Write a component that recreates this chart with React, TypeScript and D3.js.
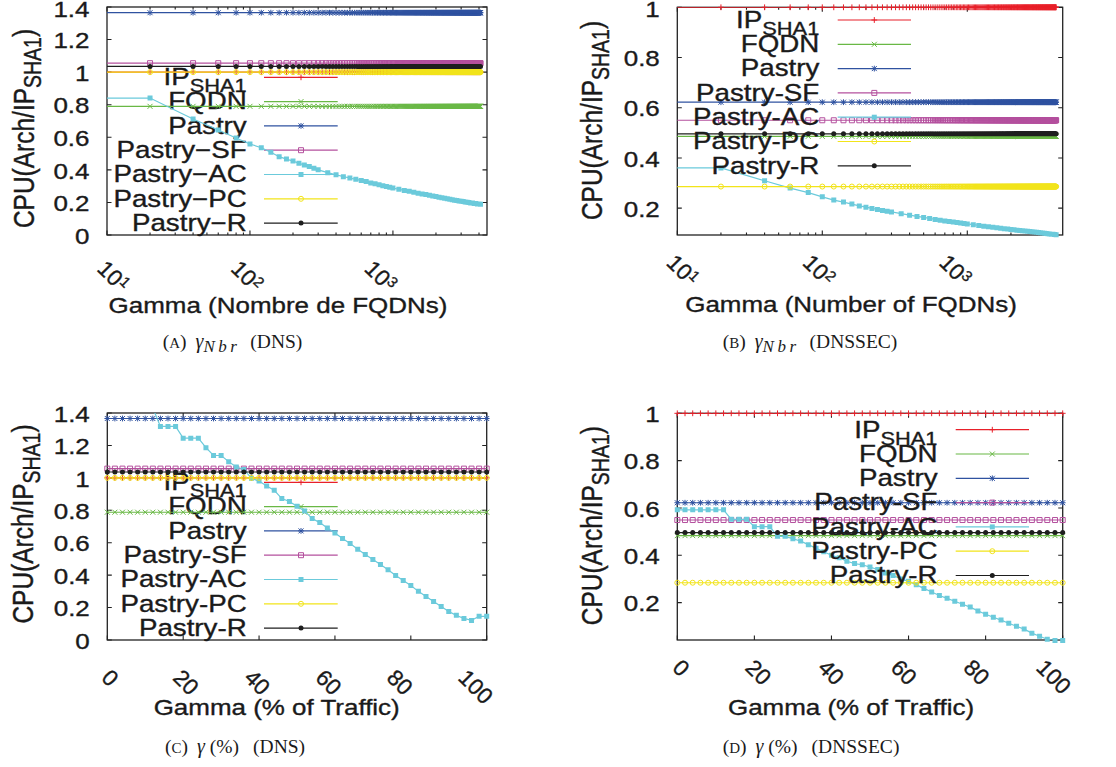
import React from 'react';
import * as d3 from 'd3';

// ---------------- DATA ----------------
const SERIES_NAMES = ['IP_SHA1', 'FQDN', 'Pastry', 'Pastry-SF', 'Pastry-AC', 'Pastry-PC', 'Pastry-R'];
const SERIES_COLORS = ['#e8202a', '#69b845', '#2f52a0', '#b4509e', '#6bcadb', '#f2e41a', '#1e1e1e'];
const SERIES_MARKERS = ['plus', 'cross', 'star', 'openSquare', 'filledSquare', 'openCircle', 'filledCircle'];

// x grids (number of FQDNs, % of traffic)
const nbrGrid = [5, ...d3.range(20, 4101, 20)];
const pctGrid = d3.range(0, 101, 2);

// constant series levels (index 4 = Pastry-AC, given separately)
const dnsNbrLevels = [1.0, 0.79, 1.365, 1.055, NaN, 1.0, 1.035];
const dnssecNbrLevels = [1.0, 0.486, 0.622, 0.55, NaN, 0.286, 0.496];
const dnsPctLevels = [1.0, 0.788, 1.366, 1.057, NaN, 1.0, 1.036];
const dnssecPctLevels = [1.0, 0.483, 0.622, 0.549, NaN, 0.284, 0.496];

// Pastry-AC, number of FQDNs
const acNbrX = [5, 20, 40, 60, 80, 100, 120, 140, 160, 180, 200, 220, 240, 260, 280, 300,
  350, 400, 450, 500, 550, 600, 650, 700, 750, 800, 850, 900, 950, 1000,
  1100, 1200, 1300, 1400, 1500, 1600, 1700, 1800, 1900, 2000, 2100, 2200, 2300, 2400, 2500,
  2600, 2700, 2800, 2900, 3000, 3100, 3200, 3300, 3400, 3500, 3600, 3700, 3800, 3900, 4000, 4100];
const acDnsNbr = [0.841, 0.841, 0.712, 0.645, 0.596, 0.559, 0.536, 0.508, 0.481, 0.466, 0.454, 0.44, 0.43, 0.42, 0.41, 0.40,
  0.383, 0.37, 0.358, 0.35, 0.342, 0.335, 0.328, 0.32, 0.314, 0.308, 0.303, 0.298, 0.293, 0.288,
  0.281, 0.274, 0.268, 0.262, 0.257, 0.252, 0.248, 0.244, 0.24, 0.236, 0.232, 0.229, 0.226, 0.223, 0.22,
  0.217, 0.214, 0.212, 0.209, 0.207, 0.205, 0.203, 0.201, 0.199, 0.197, 0.196, 0.194, 0.193, 0.191, 0.19, 0.189];
const acDnssecNbr = [0.36, 0.36, 0.309, 0.28, 0.262, 0.245, 0.232, 0.224, 0.216, 0.209, 0.204, 0.199, 0.195, 0.191, 0.188, 0.185,
  0.178, 0.172, 0.167, 0.163, 0.159, 0.155, 0.152, 0.149, 0.147, 0.145, 0.143, 0.141, 0.139, 0.137,
  0.134, 0.131, 0.128, 0.126, 0.124, 0.122, 0.12, 0.118, 0.117, 0.115, 0.114, 0.112, 0.111, 0.11, 0.109,
  0.108, 0.107, 0.106, 0.105, 0.104, 0.103, 0.102, 0.101, 0.1, 0.099, 0.098, 0.097, 0.096, 0.096, 0.095, 0.094];

// Pastry-AC, % of traffic
const acDnsPctX = [12, 14, 16, 18, 20, 22, 24, 26, 28, 30, 32, 34, 36, 38, 40, 42, 44, 46, 48, 50,
  52, 54, 56, 58, 60, 62, 64, 66, 68, 70, 72, 74, 76, 78, 80, 82, 84, 86, 88, 90, 92, 94, 96, 98, 100];
const acDnsPct = [1.43, 1.317, 1.317, 1.317, 1.245, 1.245, 1.245, 1.186, 1.138, 1.138, 1.10, 1.067, 1.052, 0.997, 0.98,
  0.95, 0.923, 0.872, 0.854, 0.825, 0.796, 0.749, 0.724, 0.691, 0.66, 0.626, 0.595, 0.56, 0.527, 0.497,
  0.466, 0.433, 0.398, 0.367, 0.336, 0.30, 0.269, 0.238, 0.207, 0.176, 0.152, 0.133, 0.121, 0.146, 0.146];
const acDnssecPctX = [0, 2, 4, 6, 8, 10, 12, 14, 16, 18, 20, 22, 24, 26, 28, 30, 32, 34, 36, 38, 40, 42, 44, 46, 48, 50,
  52, 54, 56, 58, 60, 62, 64, 66, 68, 70, 72, 74, 76, 78, 80, 82, 84, 86, 88, 90, 92, 94, 96, 98, 100];
const acDnssecPct = [0.592, 0.592, 0.592, 0.592, 0.592, 0.592, 0.592, 0.552, 0.552, 0.552, 0.521, 0.521, 0.521,
  0.48, 0.48, 0.47, 0.46, 0.445, 0.43, 0.415, 0.40, 0.39, 0.375, 0.365, 0.36, 0.35, 0.34, 0.325, 0.315, 0.30,
  0.29, 0.275, 0.26, 0.245, 0.23, 0.218, 0.206, 0.193, 0.181, 0.165, 0.151, 0.138, 0.126, 0.113, 0.10, 0.088,
  0.071, 0.058, 0.045, 0.04, 0.04];

// ticks
const yTicksDns = [0, 0.2, 0.4, 0.6, 0.8, 1, 1.2, 1.4];
const yTicksDnssec = [0.2, 0.4, 0.6, 0.8, 1];
const xTicksNbr = [10, 100, 1000];
const xTicksPct = [0, 20, 40, 60, 80, 100];

// ---------------- STYLE ----------------
const FONT = "'Liberation Sans', Arial, Helvetica, sans-serif";
const SERIF = "'Liberation Serif', 'DejaVu Serif', 'Times New Roman', serif";
const SX = 1.18;
const INK = '#1a1a1a';
const HEAVY = 0.35;

type Cfg = any;

const panels: Cfg[] = [
  {
    id: 'a', L: 107, T: 7, R: 487, B: 235, log: true, xDomain: [10, 4550], yDomain: [0, 1.4],
    yTicks: yTicksDns, xTicks: xTicksNbr, grid: nbrGrid, levels: dnsNbrLevels, acX: acNbrX, acY: acDnsNbr,
    dash: '\u2212', leg: { textR: 246.7, x1: 264, x2: 337.7, mx: 301, y0: 77.3 },
    tl: { ratio: 0.935, dx: -11, dy: 35 }, xLabel: 'Gamma (Nombre de FQDNs)', xt: { x: 278, y: 312.5 },
    yl: { x: 33.5, y: 128.5 }, cap: { x: 232.5, y: 348, letter: 'A', sub: true, suffix: 'DNS' },
  },
  {
    id: 'b', L: 677.3, T: 7.3, R: 1062.7, B: 235, log: true, xDomain: [10, 4550], yDomain: [0.093, 1.0],
    yTicks: yTicksDnssec, xTicks: xTicksNbr, grid: nbrGrid, levels: dnssecNbrLevels, acX: acNbrX, acY: acDnssecNbr,
    dash: '-', leg: { textR: 819.3, x1: 837.7, x2: 911, mx: 874.3, y0: 20 },
    tl: { ratio: 0.94, dx: -12, dy: 29 }, xLabel: 'Gamma (Number of FQDNs)', xt: { x: 851, y: 312 },
    yl: { x: 601.7, y: 120.5 }, cap: { x: 810, y: 348, letter: 'B', sub: true, suffix: 'DNSSEC' },
  },
  {
    id: 'c', L: 107.3, T: 413, R: 486.7, B: 640, log: false, xDomain: [0, 100], yDomain: [0, 1.4],
    yTicks: yTicksDns, xTicks: xTicksPct, grid: pctGrid, levels: dnsPctLevels, acX: acDnsPctX, acY: acDnsPct,
    dash: '-', leg: { textR: 246.7, x1: 264, x2: 337.7, mx: 301, y0: 482.3 },
    tl: { ratio: 0.94, dx: -7, dy: 39 }, xLabel: 'Gamma (% of Traffic)', xt: { x: 276.7, y: 715 },
    yl: { x: 33.3, y: 524 }, cap: { x: 235, y: 753, letter: 'C', sub: false, suffix: 'DNS' },
  },
  {
    id: 'd', L: 677.3, T: 413.3, R: 1062.7, B: 640, log: false, xDomain: [0, 100], yDomain: [0.042, 1.0],
    yTicks: yTicksDnssec, xTicks: xTicksPct, grid: pctGrid, levels: dnssecPctLevels, acX: acDnssecPctX, acY: acDnssecPct,
    dash: '-', leg: { textR: 937.5, x1: 955.7, x2: 1029, mx: 992.3, y0: 429.7 },
    tl: { ratio: 0.944, dx: -6, dy: 29 }, xLabel: 'Gamma (% of Traffic)', xt: { x: 851, y: 715 },
    yl: { x: 601.7, y: 525.7 }, cap: { x: 811, y: 753, letter: 'D', sub: false, suffix: 'DNSSEC' },
  },
];

function markerPath(type: string, pts: number[][], h = 2.5): string {
  let d = '';
  for (const [x, y] of pts) {
    if (type === 'plus' || type === 'star') d += `M${x - h - 0.4},${y}H${x + h + 0.4}M${x},${y - h - 0.4}V${y + h + 0.4}`;
    if (type === 'cross' || type === 'star') d += `M${x - h},${y - h}L${x + h},${y + h}M${x - h},${y + h}L${x + h},${y - h}`;
    if (type === 'openSquare' || type === 'filledSquare') d += `M${x - h},${y - h}h${2 * h}v${2 * h}h${-2 * h}Z`;
    if (type === 'openCircle' || type === 'filledCircle') d += `M${x - h},${y}a${h},${h} 0 1,0 ${2 * h},0a${h},${h} 0 1,0 ${-2 * h},0Z`;
  }
  return d;
}

function Markers({ type, pts, color }: { type: string; pts: number[][]; color: string }) {
  const filled = type.startsWith('filled');
  return (
    <path d={markerPath(type, pts)} fill={filled ? color : 'none'} stroke={filled ? 'none' : color}
      strokeWidth={1} />
  );
}

function T({ x, y, size, anchor = 'start', rotate = 0, children }: any) {
  return (
    <text transform={`translate(${x},${y}) scale(${SX},1)${rotate ? ` rotate(${rotate})` : ''}`}
      fontSize={size} textAnchor={anchor} fontFamily={FONT} fill={INK} stroke={INK} strokeWidth={HEAVY}>{children}</text>
  );
}

function fmtY(v: number) {
  if (v === 0) return '0';
  if (v === 1) return '1';
  return v.toFixed(1);
}

function Panel({ c }: { c: Cfg }) {
  const xs: any = c.log
    ? d3.scaleLog().domain(c.xDomain).range([c.L, c.R])
    : d3.scaleLinear().domain(c.xDomain).range([c.L, c.R]);
  const ys = d3.scaleLinear().domain(c.yDomain).range([c.B, c.T]);
  const line = d3.line<number[]>().x(d => xs(d[0])).y(d => ys(d[1]));
  const clipId = `clip-${c.id}`;
  const inDom = (p: number[]) =>
    p[0] >= c.xDomain[0] - 1e-9 && p[0] <= c.xDomain[1] && p[1] >= c.yDomain[0] - 0.006 && p[1] <= c.yDomain[1] + 0.006;

  const series = SERIES_NAMES.map((name, i) => {
    const pts = i === 4
      ? c.acX.map((v: number, k: number) => [v, c.acY[k]])
      : c.grid.map((v: number) => [v, c.levels[i]]);
    return { name, i, pts, color: SERIES_COLORS[i], marker: SERIES_MARKERS[i] };
  });

  // ticks
  let tickD = '';
  const maj = 4.5, mnr = 2.5;
  for (const v of c.yTicks) {
    const yy = ys(v);
    tickD += `M${c.L},${yy}h${maj}M${c.R},${yy}h${-maj}`;
  }
  const allX: number[] = c.log ? xs.ticks() : c.xTicks;
  for (const v of allX) {
    const xx = xs(v);
    const isMaj = c.xTicks.includes(v);
    const len = isMaj ? maj : mnr;
    tickD += `M${xx},${c.B}v${-len}M${xx},${c.T}v${len}`;
  }

  return (
    <g>
      <defs>
        <clipPath id={clipId}>
          <rect x={c.L} y={c.T} width={c.R - c.L} height={c.B - c.T} />
        </clipPath>
      </defs>
      <rect x={c.L} y={c.T} width={c.R - c.L} height={c.B - c.T} fill="none" stroke="#222" strokeWidth={1.3} />
      <path d={tickD} stroke="#222" strokeWidth={1.1} fill="none" />

      {/* y tick labels */}
      {c.yTicks.map((v: number) => (
        <T key={`y${v}`} x={c.L - 17.5} y={Math.max(ys(v) + 8.7, 17)} size={22} anchor="end">{fmtY(v)}</T>
      ))}

      {/* x tick labels */}
      {c.xTicks.map((v: number) => {
        const ax = c.L + (xs(v) - c.L) * c.tl.ratio + c.tl.dx;
        const ay = c.B + c.tl.dy;
        return (
          <text key={`x${v}`} transform={`translate(${ax},${ay}) rotate(45)`} fontSize={22.5} fontFamily={FONT}
            fill={INK} stroke={INK} strokeWidth={HEAVY}>
            {c.log ? (<>10<tspan fontSize={15} dy={-7}>{Math.round(Math.log10(v))}</tspan></>) : String(v)}
          </text>
        );
      })}

      {/* axis titles */}
      <T x={c.xt.x} y={c.xt.y} size={22} anchor="middle">{c.xLabel}</T>
      <T x={c.yl.x} y={c.yl.y} size={24.5} anchor="middle" rotate={-90}>
        CPU(Arch/IP<tspan fontSize={19.5} dy={6}>SHA1</tspan><tspan dy={-6}>)</tspan>
      </T>

      {/* series: key entry then data, gnuplot order */}
      {series.map(s => {
        const ry = c.leg.y0 + s.i * 24.3;
        const label = s.i === 0
          ? (<>IP<tspan fontSize={18.5} dy={7}>SHA1</tspan></>)
          : s.name.replace('-', c.dash);
        const visPts = s.pts.filter(inDom).map((p: number[]) => [xs(p[0]), ys(p[1])]);
        return (
          <g key={s.name}>
            <T x={c.leg.textR} y={ry + 7.8} size={23.5} anchor="end">{label}</T>
            <line x1={c.leg.x1} x2={c.leg.x2} y1={ry} y2={ry} stroke={s.color} strokeWidth={1.2} />
            <Markers type={s.marker} pts={[[c.leg.mx, ry]]} color={s.color} />
            <path d={line(s.pts) || ''} fill="none" stroke={s.color} strokeWidth={1.2} clipPath={`url(#${clipId})`} />
            <Markers type={s.marker} pts={visPts} color={s.color} />
          </g>
        );
      })}

      {/* caption */}
      <text x={c.cap.x} y={c.cap.y} textAnchor="middle" fontFamily={SERIF} fontSize={19.5} fill={INK}>
        (<tspan fontSize={15}>{c.cap.letter}</tspan>)
        <tspan dx={9} fontStyle="italic" fontSize={20}>γ</tspan>
        {c.cap.sub
          ? (<><tspan fontStyle="italic" fontSize={17} dy={4} letterSpacing={3.5}>Nbr</tspan><tspan dy={-4} dx={10}>({c.cap.suffix})</tspan></>)
          : (<><tspan dx={5}>(%)</tspan><tspan dx={14}>({c.cap.suffix})</tspan></>)}
      </text>
    </g>
  );
}

export default function App() {
  return (
    <svg width={1116} height={767} viewBox="0 0 1116 767"
      style={{ position: 'absolute', left: 0, top: 0, background: '#fff' }}>
      <rect x={0} y={0} width={1116} height={767} fill="#fff" />
      {panels.map(c => <Panel key={c.id} c={c} />)}
    </svg>
  );
}
